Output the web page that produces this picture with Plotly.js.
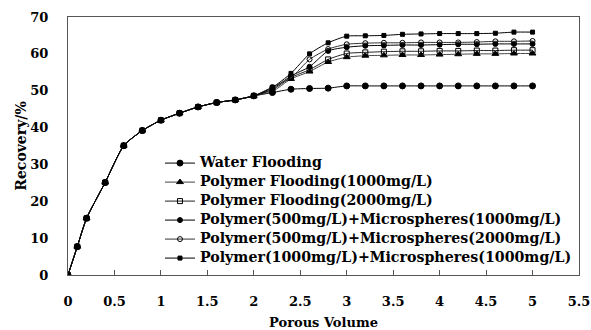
<!DOCTYPE html>
<html><head><meta charset="utf-8">
<script src="https://cdn.plot.ly/plotly-3.0.1.min.js"></script>
<style>body{margin:0;background:#fff}#chart{width:591px;height:330px}</style>
</head><body><div id="chart"></div>
<script>
const pv = [0,0.1,0.2,0.4,0.6,0.8,1.0,1.2,1.4,1.6,1.8,2.0,2.2,2.4,2.6,2.8,3.0,3.2,3.4,3.6,3.8,4.0,4.2,4.4,4.6,4.8,5.0];
const common = [0,7.7,15.4,25.1,35.1,39.2,42.0,43.9,45.6,46.8,47.5,48.6];
const waterFlooding = common.concat([49.5,50.4,50.6,50.7,51.3,51.3,51.3,51.3,51.3,51.3,51.3,51.3,51.3,51.3,51.3]);
const polymer1000 = common.concat([49.8,53.2,55.2,57.8,59.1,59.5,59.6,59.7,59.7,59.8,59.9,60.0,60.0,60.1,60.1]);
const polymer2000 = common.concat([50.2,53.6,55.7,58.5,60.1,60.4,60.6,60.7,60.7,60.8,60.8,60.9,60.9,61.0,61.0]);
const p500m1000 = common.concat([50.5,54.0,56.5,60.8,61.8,62.2,62.3,62.4,62.4,62.5,62.6,62.6,62.7,62.7,62.7]);
const p500m2000 = common.concat([51.0,53.5,58.5,61.3,62.6,62.9,63.0,63.0,63.1,63.1,63.1,63.2,63.4,63.4,63.5]);
const p1000m1000 = common.concat([50.9,54.7,60.0,63.0,64.8,64.9,65.0,65.3,65.4,65.5,65.5,65.5,65.6,65.9,65.9]);
const names = ["Water Flooding","Polymer Flooding(1000mg/L)","Polymer Flooding(2000mg/L)",
  "Polymer(500mg/L)+Microspheres(1000mg/L)","Polymer(500mg/L)+Microspheres(2000mg/L)",
  "Polymer(1000mg/L)+Microspheres(1000mg/L)"];
const series = [waterFlooding, polymer1000, polymer2000, p500m1000, p500m2000, p1000m1000];
const symbols = ["circle","triangle-up","square-open","circle","circle-open","square"];
const sizes = [6,6,5,5,5,4];
const lineColors = ["#000","#444","#222","#000","#333","#000"];
const fontFam = "DejaVu Serif";
const traces = series.map((s,i)=>({
  x: pv, y: s, name: '<span style="font-size:14.2px">' + names[i] + '</span>',
  type: "scatter", mode: "lines+markers",
  line: {color: lineColors[i], width: 1, shape: "spline", smoothing: 0.6},
  marker: {symbol: symbols[i], size: sizes[i], color: "#000", line: {color: "#000", width: 1}}
}));
const layout = {
  width: 591, height: 330,
  margin: {l: 68, r: 12, t: 17, b: 55},
  paper_bgcolor: "#fff", plot_bgcolor: "#fff",
  font: {family: fontFam, size: 13, color: "#000", weight: "bold"},
  showlegend: true,
  legend: {x: 0.18, y: 0.49, xanchor: "left", yanchor: "top", bgcolor: "rgba(0,0,0,0)",
    font: {family: fontFam, size: 10.5, color: "#000", weight: "bold"}, tracegroupgap: 0},
  xaxis: {range: [0, 5.5], dtick: 0.5, tick0: 0, showgrid: false, zeroline: false,
    showline: true, linecolor: "#555", linewidth: 1, mirror: true,
    ticks: "inside", ticklen: 5, tickcolor: "#555", ticklabelstandoff: 14,
    tickfont: {family: fontFam, size: 13, weight: "bold"},
    title: {text: "Porous Volume", font: {family: fontFam, size: 13, weight: "bold"}, standoff: 10}},
  yaxis: {range: [0, 70], dtick: 10, showgrid: false, zeroline: false,
    showline: true, linecolor: "#555", linewidth: 1, mirror: true,
    ticks: "", ticklabelstandoff: 16, tickfont: {family: fontFam, size: 13, weight: "bold"},
    title: {text: "Recovery/%", font: {family: fontFam, size: 14, weight: "bold"}, standoff: 0}}
};
Plotly.newPlot("chart", traces, layout, {displayModeBar: false, staticPlot: true});
</script></body></html>
